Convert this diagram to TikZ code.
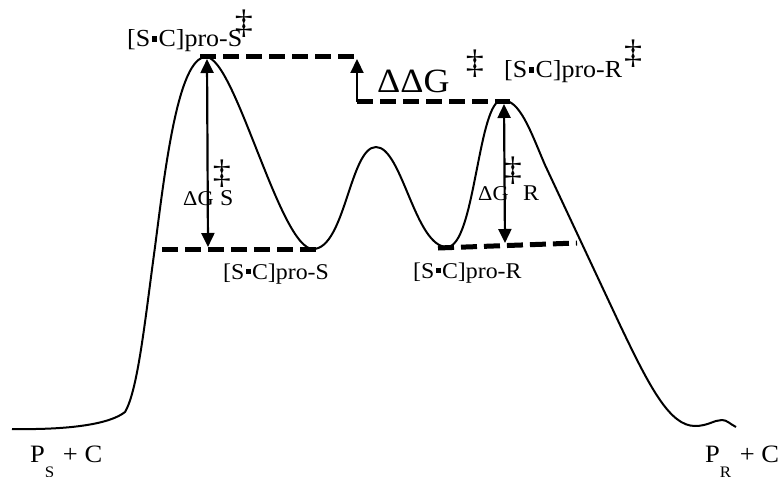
\documentclass[tikz,border=0pt]{standalone}
\usepackage{fontspec}
\setmainfont{Liberation Serif}[FakeStretch=1.06]
\usetikzlibrary{arrows.meta}
\newcommand{\sqd}{\kern0.05em\rule[0.22em]{0.24em}{0.24em}\kern0.05em}
\newcommand{\fs}[1]{\fontsize{#1}{#1}\selectfont}
\begin{document}
\begin{tikzpicture}[x=1pt,y=-1pt,
  curve/.style={line width=2pt, line join=round},
  dashline/.style={line width=5pt, dash pattern=on 16pt off 7pt},
  dim/.style={line width=2.2pt, -{Triangle[width=13pt,length=14pt]}},
  dimboth/.style={line width=2.2pt, {Triangle[width=13pt,length=14pt]}-{Triangle[width=13pt,length=14pt]}},
  lbl/.style={inner sep=0pt, anchor=base west, font=\fs{22.5}},
  toplbl/.style={lbl, font=\fs{24.5}},
  dd/.style={inner sep=0pt, font=\fs{34}}]
\useasboundingbox (0,0) rectangle (778,476);

% energy profile
\draw[curve] (12,429) .. controls (70,430) and (110,424) .. (125,412)
 .. controls (138,390) and (145,320) .. (155,247)
 .. controls (165,170) and (178,57) .. (206,57)
 .. controls (235,57) and (280,249) .. (313,249)
 .. controls (345,249) and (350,147) .. (376,147)
 .. controls (402,147) and (415,247) .. (447,247)
 .. controls (475,247) and (478,100) .. (502,100)
 .. controls (520,100) and (530,130) .. (545,165)
 -- (620,325)
 .. controls (650,388) and (670,426) .. (695,426)
 .. controls (708,426) and (714,420) .. (722,420)
 .. controls (727,420) and (730,424) .. (736,427);

% reference points
\coordinate (tsS) at (200,57);
\coordinate (tsSend) at (357,57);
\coordinate (ddgBase) at (357,102);
\coordinate (tsR) at (510,102);
\coordinate (intSa) at (162,249);
\coordinate (intSb) at (320,249);
\coordinate (intRa) at (438,248);
\coordinate (intRb) at (577,243);
\coordinate (dgStop) at (207,59);
\coordinate (dgSbot) at (208,247);
\coordinate (dgRtop) at (504,104);
\coordinate (dgRbot) at (505,243);
\coordinate (ddgTop) at (357,59);

% dashed levels
\draw[dashline] (tsS) -- (tsSend);
\draw[dashline] (ddgBase) -- (tsR);
\draw[dashline] (intSa) -- (intSb);
\draw[dashline] (intRa) -- (intRb);

% arrows
\draw[dim] (ddgBase) -- (ddgTop);
\draw[dimboth] (dgStop) -- (dgSbot);
\draw[dimboth] (dgRtop) -- (dgRbot);

% labels
\node[toplbl] (tsSlbl) at (127,47) {[S\sqd C]pro-S};
\node[dd] (tsSdd) at (244,24) {‡};
\node[toplbl] (tsRlbl) at (504,78) {[S\sqd C]pro-R};
\node[dd] (tsRdd) at (633,54) {‡};
\node[lbl, font=\fs{34}] (ddg) at (377,93) {ΔΔG};
\node[dd] (ddgdd) at (475,64) {‡};
\node[lbl, font=\fs{21}] (dgSlbl) at (183,205) {ΔG};
\node[dd] (dgSdd) at (222,174) {‡};
\node[lbl] (dgSs) at (220,205) {S};
\node[lbl, font=\fs{21}] (dgRlbl) at (478,200) {ΔG};
\node[dd] (dgRdd) at (513,171) {‡};
\node[lbl] (dgRr) at (523,200) {R};
\node[lbl] (intSlbl) at (223,279) {[S\sqd C]pro-S};
\node[lbl] (intRlbl) at (413,278) {[S\sqd C]pro-R};
\node[lbl, font=\fs{25}] (PS) at (30,462) {P\raisebox{-15pt}{\fs{16}S}\hspace{2pt} + C};
\node[lbl, font=\fs{25}] (PR) at (705,462) {P\raisebox{-15pt}{\fs{16}R}\hspace{2pt} + C};
\end{tikzpicture}
\end{document}
